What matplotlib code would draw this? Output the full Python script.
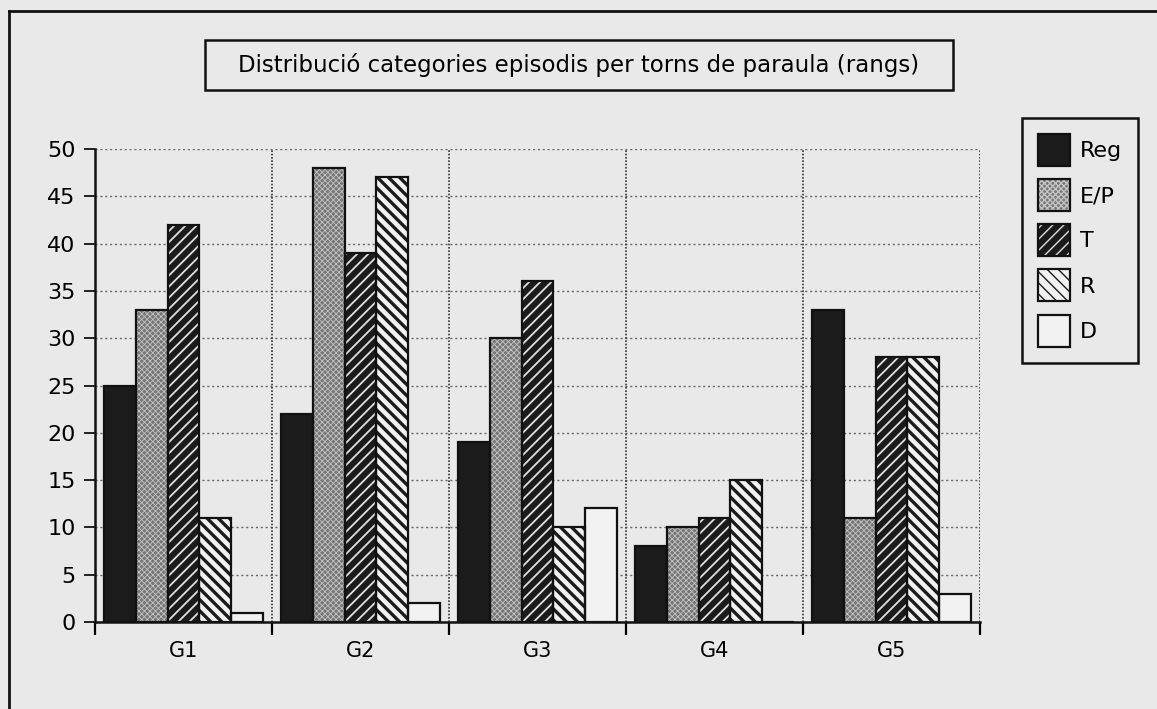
import matplotlib.pyplot as plt
import matplotlib as mpl
import numpy as np
from matplotlib.legend_handler import HandlerTuple


groups = ['G1', 'G2', 'G3', 'G4', 'G5']
series = ['Reg', 'E/P', 'T', 'R', 'D']
reg = [25, 22, 19, 8, 33]
ep = [33, 48, 30, 10, 11]
t = [42, 39, 36, 11, 28]
r = [11, 47, 10, 15, 28]
d = [1, 2, 12, 0, 3]
title = 'Distribució categories episodis per torns de paraula (rangs)'

paper = '#e9e9e9'

# fill, hatch, hatch colour, hatch line width for each series
styles = [
    ('#1b1b1b', None, None, 1.0),
    ('#767676', 'xxxxxx', '#c4c4c4', 0.6),
    ('#1b1b1b', '///', '#e0e0e0', 1.3),
    ('#f2f2f2', '\\\\\\', '#1b1b1b', 2.4),
    ('#f2f2f2', None, None, 1.0),
]

fig = plt.figure(figsize=(11.57, 7.09), dpi=100, facecolor=paper)
ax = fig.add_axes([95 / 1157, 87 / 709, 885 / 1157, 473 / 709])
ax.set_facecolor(paper)

x = np.arange(len(groups))
width = 0.18
handles = []
for i, (vals, (fc, hatch, hc, hlw)) in enumerate(zip([reg, ep, t, r, d], styles)):
    pos = x + (i - 2) * width
    with mpl.rc_context({'hatch.linewidth': hlw}):
        fill = ax.bar(pos, vals, width, color=fc, edgecolor=hc if hatch else fc,
                      hatch=hatch, linewidth=0, zorder=3)
    edge = ax.bar(pos, vals, width, fill=False, edgecolor='#111111',
                  linewidth=1.6, zorder=4)
    handles.append((fill[0], edge[0]))

ax.set_xlim(-0.5, 4.5)
ax.set_ylim(0, 50)
ax.set_yticks(np.arange(0, 51, 5))
ax.set_xticks(x)
ax.set_xticklabels(groups)
ax.set_xticks(np.arange(-0.5, 5, 1), minor=True)
ax.tick_params(axis='x', which='major', length=0, pad=14, labelsize=15)
ax.tick_params(axis='x', which='minor', length=9, width=1.6, direction='out')
ax.tick_params(axis='y', length=8, width=1.2, direction='out', labelsize=16, pad=6)

ax.yaxis.grid(True, linestyle=(0, (1.5, 2)), color='#666666', linewidth=1.0, zorder=1)
for sep in np.arange(0.5, 5, 1):
    ax.axvline(sep, linestyle=(0, (1, 1)), color='#333333', linewidth=1.2, zorder=1)
ax.set_axisbelow(True)

for side in ['top', 'right']:
    ax.spines[side].set_visible(False)
for side in ['left', 'bottom']:
    ax.spines[side].set_linewidth(1.8)
    ax.spines[side].set_color('#111111')

# boxed title
fig.patches.append(plt.Rectangle((205 / 1157, 1 - 90 / 709), 748 / 1157, 50 / 709,
                                 transform=fig.transFigure, fill=False,
                                 edgecolor='#111111', linewidth=1.8))
fig.text(579 / 1157, 1 - 65 / 709, title, ha='center', va='center', fontsize=16.5)

# outer frame (top and left edges)
fig.add_artist(plt.Line2D([9 / 1157, 1.01], [1 - 11 / 709, 1 - 11 / 709],
                          transform=fig.transFigure, color='#111111', linewidth=2))
fig.add_artist(plt.Line2D([9 / 1157, 9 / 1157], [-0.01, 1 - 11 / 709],
                          transform=fig.transFigure, color='#111111', linewidth=2))

leg = fig.legend(handles, series, handler_map={tuple: HandlerTuple(ndivide=1, pad=0)},
                 loc='upper left', bbox_to_anchor=(1022 / 1157, 1 - 118 / 709),
                 fontsize=16, frameon=True, fancybox=False, handlelength=1.44,
                 handleheight=1.84, labelspacing=0.59, handletextpad=0.45,
                 borderpad=0.72, borderaxespad=0)
leg.get_frame().set_edgecolor('#111111')
leg.get_frame().set_linewidth(1.8)
leg.get_frame().set_facecolor(paper)
leg.get_frame().set_alpha(None)

fig.savefig('out.png', dpi=100, facecolor=paper)
